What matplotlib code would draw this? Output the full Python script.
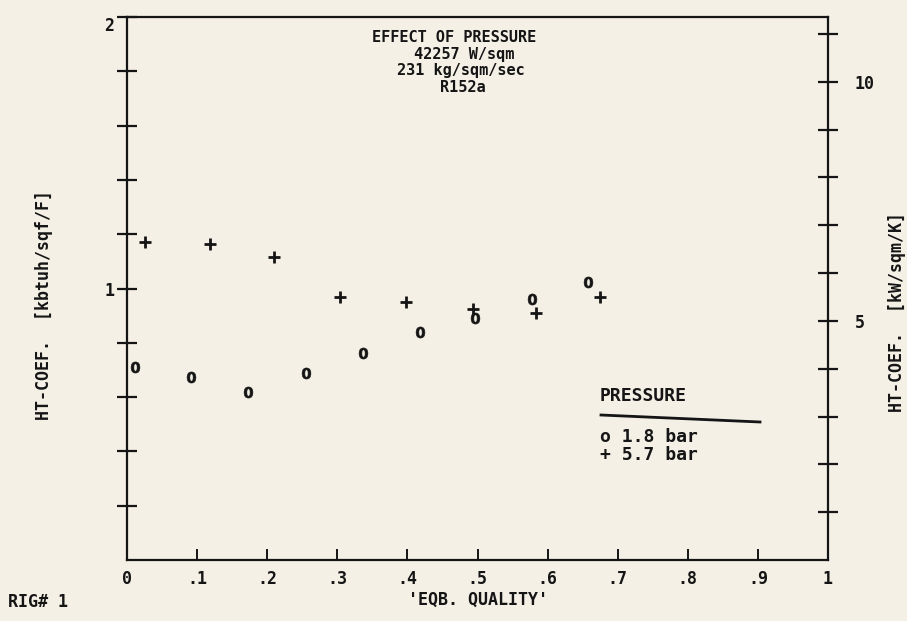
import numpy as np
import matplotlib.pyplot as plt
from matplotlib.lines import Line2D

# quality / heat transfer coefficient, R152a at 231 kg/sqm/sec
quality_lo = [0.011, 0.092, 0.173, 0.255, 0.337, 0.418, 0.497, 0.578, 0.658]
htc_lo = [0.711, 0.674, 0.620, 0.689, 0.764, 0.840, 0.890, 0.961, 1.025]

quality_hi = [0.025, 0.118, 0.210, 0.304, 0.398, 0.493, 0.584, 0.675]
htc_hi = [1.171, 1.164, 1.116, 0.969, 0.950, 0.925, 0.910, 0.969]

xtick_vals = np.arange(0, 1.01, 0.1)
xtick_labels = ["0", ".1", ".2", ".3", ".4", ".5", ".6", ".7", ".8", ".9", "1"]
si_factor = 5.678  # kbtuh/sqf/F -> kW/sqm/K

ink = "#151515"
paper = "#f4f0e6"
plt.rcParams["font.family"] = "DejaVu Sans Mono"
plt.rcParams["font.weight"] = "bold"

W, H = 907, 621
fig = plt.figure(figsize=(W / 100, H / 100), dpi=100, facecolor=paper)


def fx(px):
    return px / W


def fy(py):
    return 1 - py / H


ax = fig.add_axes([fx(127), fy(560), (828 - 127) / W, (560 - 17) / H])
ax.set_facecolor(paper)
ax.set_xlim(0, 1)
ax.set_ylim(0, 2)
for s in ax.spines.values():
    s.set_color(ink)
    s.set_linewidth(1.6)

ax.plot(quality_lo, htc_lo, linestyle="none", marker="$0$", ms=8, color=ink, mew=0.4)
ax.plot(quality_hi, htc_hi, linestyle="none", marker="+", ms=9, color=ink, mew=2)

# bottom axis
ax.set_xticks(xtick_vals)
ax.set_xticklabels(xtick_labels, fontsize=12)
ax.tick_params(axis="x", direction="in", length=8, width=1.4, pad=7, colors=ink)

# left axis
ax.set_yticks([1, 2])
ax.set_yticklabels(["1", "2"], fontsize=12)
ax.set_yticks(np.arange(0.2, 2.0, 0.2), minor=True)
ax.tick_params(axis="y", which="both", direction="inout", length=14, width=1.6,
               pad=2, colors=ink)
ax.get_yticklabels()[1].set_va("top")

# right axis in SI units
ax2 = ax.twinx()
ax2.set_ylim(0, 2 * si_factor)
ax2.set_yticks([5, 10])
ax2.set_yticklabels(["5", "10"], fontsize=12)
ax2.set_yticks(np.arange(1, 12), minor=True)
ax2.tick_params(axis="y", which="both", direction="inout", length=14, width=1.6,
                pad=12, colors=ink)
for s in ax2.spines.values():
    s.set_visible(False)

# heading
fig.text(fx(372), fy(38), "EFFECT OF PRESSURE", fontsize=11, color=ink, va="center")
fig.text(fx(414), fy(55), "42257 W/sqm", fontsize=11, color=ink, va="center")
fig.text(fx(397), fy(71), "231 kg/sqm/sec", fontsize=11, color=ink, va="center")
fig.text(fx(440), fy(87), "R152a", fontsize=11, color=ink, va="center")

# legend block
fig.text(fx(600), fy(396), "PRESSURE", fontsize=13, color=ink, va="center")
fig.add_artist(Line2D([fx(601), fx(760)], [fy(415), fy(422)], color=ink, lw=2))
fig.text(fx(600), fy(437), "o 1.8 bar", fontsize=13, color=ink, va="center")
fig.text(fx(600), fy(455), "+ 5.7 bar", fontsize=13, color=ink, va="center")

# axis titles
fig.text(fx(44), fy(305), "HT-COEF.  [kbtuh/sqf/F]", fontsize=12, color=ink,
         rotation=90, ha="center", va="center")
fig.text(fx(897), fy(312), "HT-COEF.  [kW/sqm/K]", fontsize=12, color=ink,
         rotation=90, ha="center", va="center")
fig.text(fx(478), fy(600), "'EQB. QUALITY'", fontsize=12, color=ink,
         ha="center", va="center")
fig.text(fx(8), fy(602), "RIG# 1", fontsize=12, color=ink, va="center")

fig.savefig("out.png", dpi=100, facecolor=paper)
